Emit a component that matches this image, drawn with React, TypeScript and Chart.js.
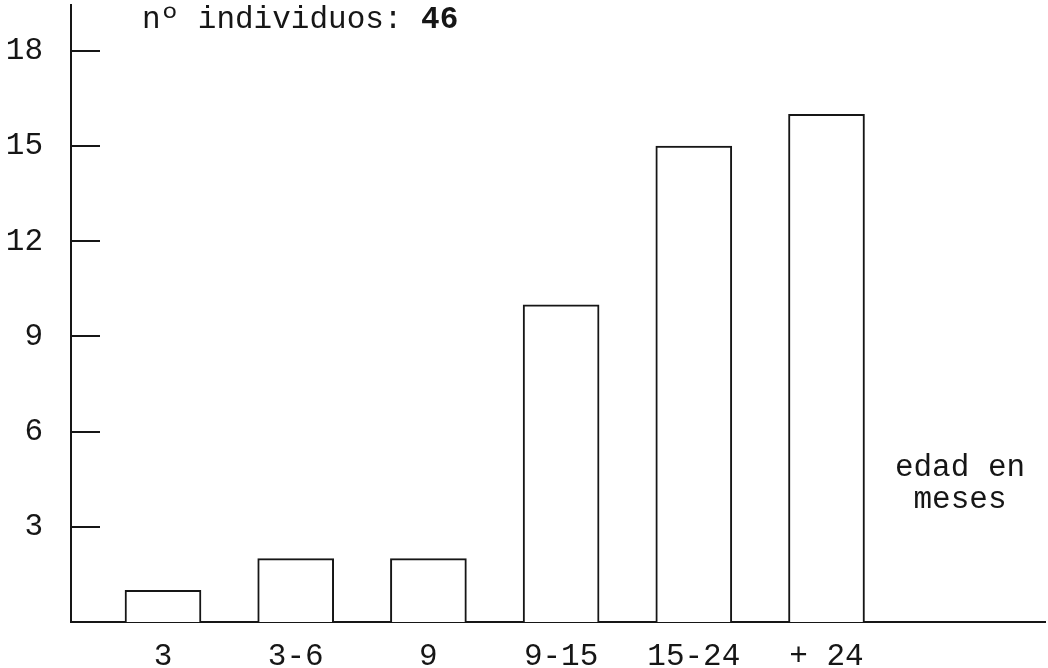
import React, { useEffect, useRef } from "react";
import { Chart, registerables } from "chart.js";

Chart.register(...registerables);

const categories = ["3", "3-6", "9", "9-15", "15-24", "+ 24"];
const values = [1, 2, 2, 10, 15, 16];
const yTickValues = [3, 6, 9, 12, 15, 18];
const titleText = "nº individuos: ";
const titleBold = "46";
const axisNote = ["edad en", "meses"];

const FONT = "'Liberation Mono', 'DejaVu Sans Mono', monospace";
const FONT_SIZE = 31;
const INK = "#161616";

const decorPlugin = {
  id: "decor",
  afterDraw(chart: any) {
    const ctx = chart.ctx;
    const y = chart.scales.y;
    const area = chart.chartArea;
    ctx.save();
    // inward tick marks on the y axis
    ctx.strokeStyle = INK;
    ctx.lineWidth = 2;
    yTickValues.forEach((v) => {
      const py = Math.round(y.getPixelForValue(v));
      ctx.beginPath();
      ctx.moveTo(area.left, py);
      ctx.lineTo(area.left + 29, py);
      ctx.stroke();
    });
    // header text
    ctx.fillStyle = INK;
    ctx.textBaseline = "alphabetic";
    ctx.textAlign = "left";
    ctx.font = `${FONT_SIZE}px ${FONT}`;
    const x0 = 142;
    ctx.fillText(titleText, x0, 28);
    const w = ctx.measureText(titleText).width;
    ctx.font = `bold ${FONT_SIZE}px ${FONT}`;
    ctx.fillText(titleBold, x0 + w, 28);
    // axis note
    ctx.font = `${FONT_SIZE}px ${FONT}`;
    ctx.textAlign = "center";
    ctx.fillText(axisNote[0], 960, 476);
    ctx.fillText(axisNote[1], 960, 508);
    ctx.restore();
  },
};

export default function App() {
  const ref = useRef<HTMLCanvasElement>(null);
  useEffect(() => {
    if (!ref.current) return;
    const chart = new Chart(ref.current, {
      type: "bar",
      data: {
        datasets: [
          {
            data: categories.map((c, i) => ({ x: i + 1, y: values[i] })),
            backgroundColor: "#ffffff",
            borderColor: INK,
            borderWidth: 2,
            barThickness: 76,
          },
        ],
      },
      options: {
        animation: false,
        responsive: false,
        maintainAspectRatio: false,
        layout: { padding: { top: 5, right: 3, left: 0, bottom: 0 } },
        plugins: {
          legend: { display: false },
          tooltip: { enabled: false },
        },
        scales: {
          x: {
            type: "linear",
            min: 0.3067,
            max: 7.6466,
            offset: false,
            grid: { display: false },
            border: { display: true, color: INK, width: 2 },
            afterBuildTicks: (scale: any) => {
              scale.ticks = categories.map((c, i) => ({ value: i + 1 }));
            },
            afterFit: (scale: any) => {
              scale.height = 46;
            },
            ticks: {
              autoSkip: false,
              maxRotation: 0,
              padding: 8,
              color: INK,
              font: { family: FONT, size: FONT_SIZE },
              callback: (v: any) => categories[Number(v) - 1] ?? "",
            },
          },
          y: {
            min: 0,
            max: 19.45,
            grid: {
              display: true,
              drawOnChartArea: false,
              drawTicks: true,
              tickLength: 28,
              color: "rgba(0,0,0,0)",
            },
            border: { display: true, color: INK, width: 2 },
            afterBuildTicks: (scale: any) => {
              scale.ticks = yTickValues.map((v) => ({ value: v }));
            },
            afterFit: (scale: any) => {
              scale.width = 71;
            },
            ticks: {
              padding: 0,
              color: INK,
              font: { family: FONT, size: FONT_SIZE, lineHeight: 0.3 },
            },
          },
        },
      },
      plugins: [decorPlugin],
    });
    return () => chart.destroy();
  }, []);
  return (
    <div style={{ position: "fixed", left: 0, top: 0, width: 1048, height: 668, background: "#fff" }}>
      <canvas ref={ref} width={1048} height={668} style={{ width: 1048, height: 668 }} />
    </div>
  );
}
